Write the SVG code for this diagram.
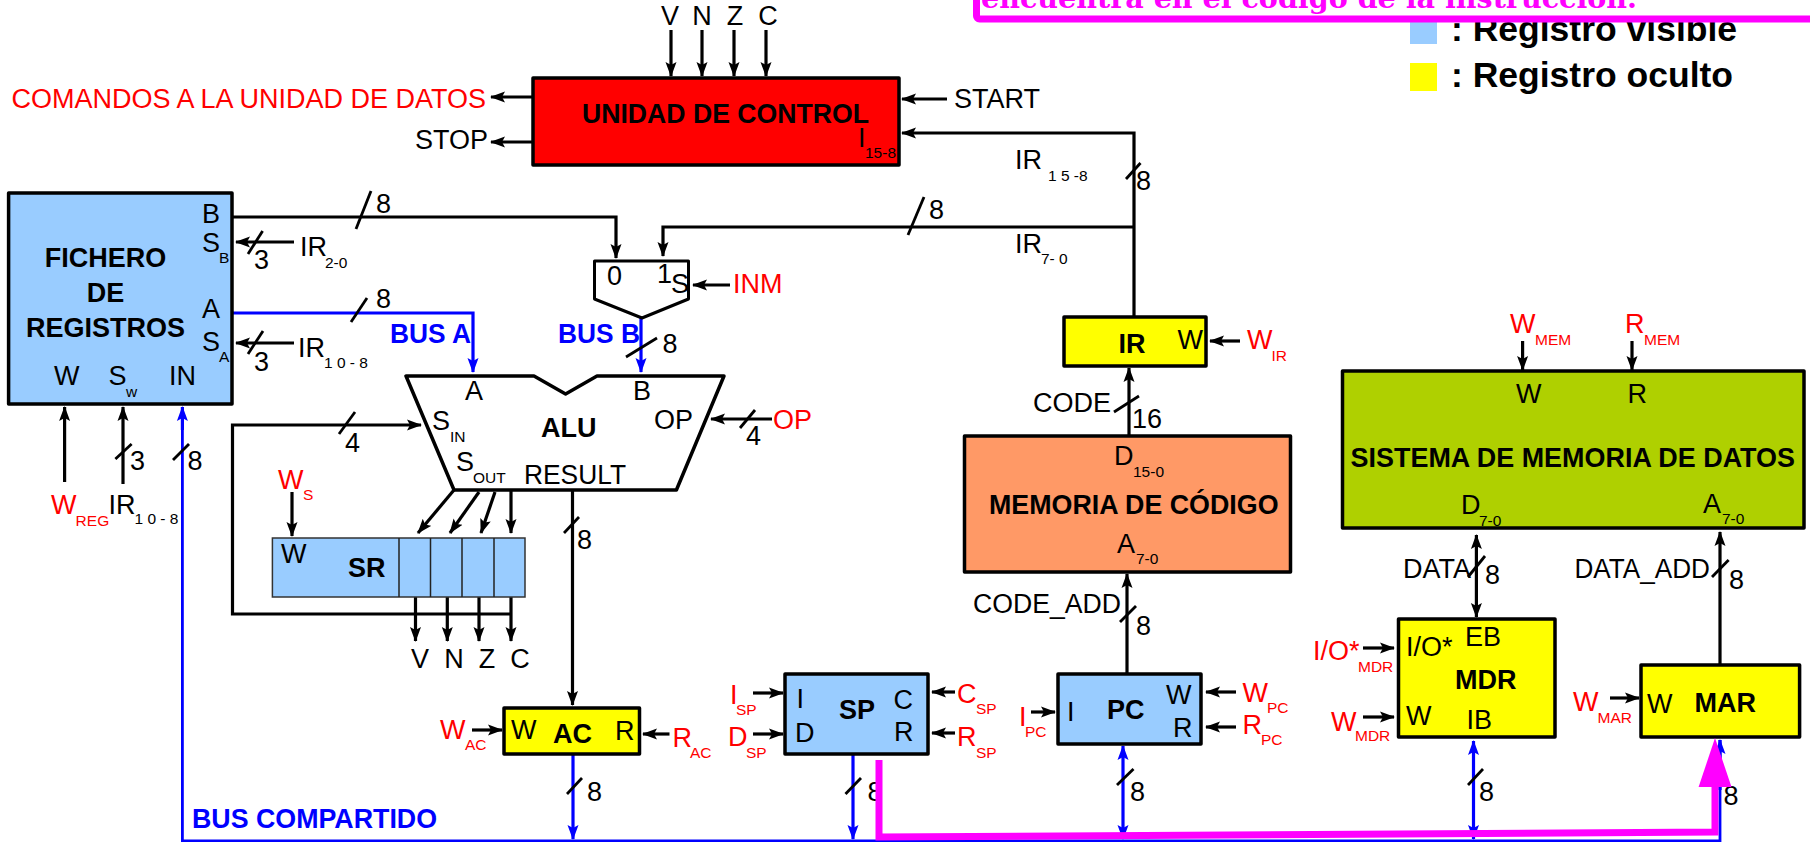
<svg xmlns="http://www.w3.org/2000/svg" width="1810" height="842" viewBox="0 0 1810 842">
<style>
text{font-family:"Liberation Sans",Arial,sans-serif;font-size:27px;fill:#000}
.b{font-weight:700}
.s{font-size:15.5px}
.r{fill:#f00}
.u{fill:#00f;font-weight:700}
.m{text-anchor:middle}
.box{stroke:#000;stroke-width:3.5;stroke-linejoin:round}
.blue{fill:#9cf}.yel{fill:#ff0}
#connectors line,#connectors polyline{fill:none;stroke:#000;stroke-width:3.2}
#connectors .a{marker-end:url(#ah)}
#connectors .bl{stroke:#00f;marker-end:url(#bh)}
#connectors .bb{stroke:#00f;marker-end:url(#bh);marker-start:url(#bh)}
#connectors .bn{stroke:#00f}
#connectors .d{marker-end:url(#ah);marker-start:url(#ah)}
#connectors .t{stroke-width:2.8}
</style>
<defs>
<marker id="ah" markerUnits="userSpaceOnUse" markerWidth="16" markerHeight="12" refX="14" refY="6" orient="auto-start-reverse"><path d="M0,.5L15,6L0,11.5L3,6z" fill="#000"/></marker>
<marker id="bh" markerUnits="userSpaceOnUse" markerWidth="16" markerHeight="12" refX="14" refY="6" orient="auto-start-reverse"><path d="M0,.5L15,6L0,11.5L3,6z" fill="#00f"/></marker>
</defs>

<g id="legend">
<rect x="1410" y="18" width="27" height="26" fill="#9cf"/>
<rect x="1410" y="63" width="27" height="28" fill="#ff0"/>
<text x="1451" y="41" class="b" style="font-size:35.5px">: Registro visible</text>
<text x="1451" y="87" class="b" style="font-size:35.5px">: Registro oculto</text>
</g>
<g id="note">
<rect x="976.5" y="-60" width="900" height="79" rx="3" fill="#fff" stroke="#f0f" stroke-width="7"/>
<text x="981" y="8" textLength="656" lengthAdjust="spacingAndGlyphs" style="font-family:'DejaVu Serif',serif;font-weight:700;font-size:27px;fill:#f0f">encuentra en el código de la instrucción.</text>
</g>

<g id="connectors">
<line class="a" x1="671" y1="30" x2="671" y2="76"/>
<line class="a" x1="702" y1="30" x2="702" y2="76"/>
<line class="a" x1="734" y1="30" x2="734" y2="76"/>
<line class="a" x1="766" y1="30" x2="766" y2="76"/>
<line class="a" x1="533" y1="97" x2="491" y2="97"/>
<line class="a" x1="533" y1="142" x2="491" y2="142"/>
<line class="a" x1="947" y1="99" x2="902" y2="99"/>
<polyline class="a" points="1134,317 1134,133 902,133"/>
<line class="t" x1="1126" y1="179" x2="1140.5" y2="163"/>
<polyline class="a" points="1134,227 663,227 663,256"/>
<line class="t" x1="908" y1="235" x2="924" y2="197"/>
<polyline class="a" points="232,217 616,217 616,258"/>
<line class="t" x1="356" y1="229" x2="371" y2="191"/>
<line class="a" x1="294" y1="242" x2="236" y2="242"/>
<line class="t" x1="248" y1="254" x2="262.6" y2="231"/>
<polyline class="bl" points="232,313 473,313 473,372"/>
<line class="t" x1="351" y1="322" x2="367" y2="298"/>
<line class="a" x1="294" y1="343" x2="236" y2="343"/>
<line class="t" x1="248" y1="354" x2="263" y2="331"/>
<line class="a" x1="730" y1="285" x2="693" y2="285"/>
<line class="bl" x1="641" y1="318" x2="641" y2="372"/>
<line class="t" x1="626" y1="357" x2="657" y2="338"/>
<line class="a" x1="772" y1="419" x2="711" y2="419"/>
<line class="t" x1="740" y1="428" x2="755" y2="410"/>
<polyline class="a" points="511,614 232.5,614 232.5,425 421,425"/>
<line class="t" x1="339" y1="434" x2="355" y2="412"/>
<line class="a" x1="454" y1="490" x2="418" y2="533"/>
<line class="a" x1="479" y1="492" x2="450" y2="533"/>
<line class="a" x1="495" y1="492" x2="481" y2="533"/>
<line class="a" x1="511" y1="490" x2="511" y2="533"/>
<line class="a" x1="572.5" y1="490" x2="572.5" y2="705"/>
<line class="t" x1="564" y1="533" x2="579" y2="517"/>
<line class="a" x1="292" y1="492" x2="292" y2="536"/>
<line class="a" x1="415.5" y1="597" x2="415.5" y2="641"/>
<line class="a" x1="447.3" y1="597" x2="447.3" y2="641"/>
<line class="a" x1="479" y1="597" x2="479" y2="641"/>
<line class="a" x1="511" y1="597" x2="511" y2="641"/>
<line class="a" x1="64.6" y1="482" x2="64.6" y2="407"/>
<line class="a" x1="123" y1="484" x2="123" y2="407"/>
<line class="t" x1="115.4" y1="459" x2="131.6" y2="444"/>
<polyline class="bn t" points="182.4,407 182.4,841 1720,841 1720,740"/>
<line class="bl" x1="182.4" y1="430" x2="182.4" y2="407"/>
<line class="t" x1="173" y1="460" x2="189" y2="444"/>
<line class="a" x1="472" y1="730" x2="502" y2="730"/>
<line class="a" x1="669.5" y1="734" x2="643" y2="734"/>
<line class="bl" x1="573" y1="754" x2="573" y2="839"/>
<line class="t" x1="567" y1="794" x2="582" y2="778"/>
<line class="a" x1="753" y1="693" x2="783" y2="693"/>
<line class="a" x1="753" y1="734" x2="783" y2="734"/>
<line class="a" x1="955" y1="692" x2="932" y2="692"/>
<line class="a" x1="955" y1="733" x2="932" y2="733"/>
<line class="bl" x1="853" y1="754" x2="853" y2="839"/>
<line class="t" x1="845.5" y1="794" x2="861" y2="778"/>
<line class="a" x1="1031" y1="712" x2="1055" y2="712"/>
<line class="a" x1="1236" y1="692" x2="1206" y2="692"/>
<line class="a" x1="1236" y1="727" x2="1206" y2="727"/>
<line class="a" x1="1127" y1="674" x2="1127" y2="574"/>
<line class="t" x1="1120" y1="622" x2="1136" y2="606"/>
<line class="bb" x1="1123" y1="839" x2="1123" y2="746"/>
<line class="t" x1="1117" y1="785" x2="1133.5" y2="769"/>
<line class="a" x1="1240" y1="341" x2="1210" y2="341"/>
<line class="a" x1="1129" y1="436" x2="1129" y2="368"/>
<line class="t" x1="1114" y1="412" x2="1139" y2="396"/>
<line class="a" x1="1522.6" y1="341" x2="1522.6" y2="370"/>
<line class="a" x1="1632" y1="341" x2="1632" y2="370"/>
<line class="d" x1="1476.4" y1="535" x2="1476.4" y2="617"/>
<line class="t" x1="1468" y1="577" x2="1485" y2="556"/>
<line class="a" x1="1720" y1="664" x2="1720" y2="532"/>
<line class="t" x1="1712" y1="577" x2="1728.6" y2="560"/>
<line class="a" x1="1363" y1="648" x2="1394" y2="648"/>
<line class="a" x1="1363" y1="717" x2="1394" y2="717"/>
<line class="bb" x1="1473.5" y1="839" x2="1473.5" y2="741"/>
<line class="t" x1="1468" y1="785" x2="1483" y2="769"/>
<line class="a" x1="1610" y1="698" x2="1639" y2="698"/>
<line class="bl" x1="1720" y1="790" x2="1720" y2="740"/>
</g>

<g id="ctrl">
<rect class="box" x="533" y="78" width="366" height="87" fill="#f00"/>
<text class="b" x="582" y="123" textLength="287" lengthAdjust="spacingAndGlyphs">UNIDAD DE CONTROL</text>
<text x="858" y="147">I</text><text class="s" x="865" y="158">15-8</text>
</g>
<g id="ctrl-signals">
<text class="m" x="670" y="25">V</text><text class="m" x="702" y="25">N</text><text class="m" x="735" y="25">Z</text><text class="m" x="768" y="25">C</text>
<text class="r" x="11.5" y="108">COMANDOS A LA UNIDAD DE DATOS</text>
<text x="415" y="149">STOP</text>
<text x="954" y="108">START</text>
<text x="1015" y="169">IR</text><text class="s" x="1048" y="181">1 5 -8</text>
<text x="1136" y="190">8</text>
<text x="929" y="219">8</text>
<text x="1015" y="253">IR</text><text class="s" x="1041" y="264">7- 0</text>
</g>

<g id="regfile">
<rect class="box blue" x="8.6" y="193" width="223.4" height="211"/>
<text class="b m" x="105.6" y="267">FICHERO</text>
<text class="b m" x="105.6" y="302">DE</text>
<text class="b m" x="105.6" y="337">REGISTROS</text>
<text x="202" y="223">B</text><text x="202" y="252">S</text><text class="s" x="219" y="263">B</text>
<text x="202" y="318">A</text><text x="202" y="351">S</text><text class="s" x="219" y="362">A</text>
<text x="54" y="385">W</text><text x="108.5" y="385">S</text><text class="s" x="126" y="397">w</text><text x="169" y="385">IN</text>
</g>
<g id="regfile-signals">
<text x="376" y="213">8</text>
<text x="254" y="269">3</text><text x="300" y="256">IR</text><text class="s" x="325" y="268">2-0</text>
<text x="376" y="308">8</text>
<text class="u" x="390" y="343" textLength="81" lengthAdjust="spacingAndGlyphs">BUS A</text>
<text class="u" x="558" y="343" textLength="82" lengthAdjust="spacingAndGlyphs">BUS B</text>
<text x="254" y="371">3</text><text x="298" y="357">IR</text><text class="s" x="324" y="368">1 0 - 8</text>
<text x="130" y="470">3</text><text x="187.6" y="470">8</text>
<text class="r" x="51" y="514">W</text><text class="r s" x="75.6" y="526">REG</text>
<text x="108.5" y="514">IR</text><text class="s" x="134.5" y="524">1 0 - 8</text>
</g>

<g id="mux">
<path class="box" d="M594.5,261H688.5V299L642,318L594.5,299z" fill="#fff" style="stroke-width:3"/>
<text x="607" y="285">0</text><text x="657" y="283">1</text><text x="671" y="293">S</text>
<text class="r" x="733" y="293">INM</text><text x="662.6" y="353">8</text>
</g>

<g id="alu">
<path d="M406,376H534L565.6,394L597,376H724L676.4,490H454z" fill="#fff" stroke="#000" stroke-width="3.5" stroke-linejoin="round"/>
<text x="465" y="400">A</text><text x="633" y="400">B</text><text x="654" y="429">OP</text>
<text class="b" x="541" y="437">ALU</text>
<text x="432" y="430">S</text><text class="s" x="450" y="442">IN</text>
<text x="456" y="471">S</text><text class="s" x="473" y="483">OUT</text>
<text x="524" y="484" textLength="102" lengthAdjust="spacingAndGlyphs">RESULT</text>
<text x="746" y="445">4</text><text class="r" x="773" y="429">OP</text>
<text x="345" y="452">4</text><text x="577" y="549">8</text>
</g>

<g id="sr">
<rect x="272.4" y="538" width="252.6" height="59" fill="#9cf" stroke="#333" stroke-width="1.5"/>
<path d="M399,538V597M430.5,538V597M462,538V597M494,538V597" stroke="#222" stroke-width="1.5" fill="none"/>
<text x="281" y="563">W</text><text class="b" x="348" y="577">SR</text>
<text class="r" x="278" y="489">W</text><text class="r s" x="303" y="500">S</text>
<text class="m" x="420" y="668">V</text><text class="m" x="454" y="668">N</text><text class="m" x="487" y="668">Z</text><text class="m" x="520" y="668">C</text>
</g>

<g id="ac">
<rect class="box yel" x="504" y="708" width="135.5" height="46"/>
<text x="511" y="739">W</text><text class="b" x="553" y="743">AC</text><text x="615" y="740">R</text>
<text class="r" x="440" y="739">W</text><text class="r s" x="465" y="750">AC</text>
<text class="r" x="672.4" y="747">R</text><text class="r s" x="690" y="758">AC</text>
<text x="587" y="801">8</text>
</g>
<g id="bus-label"><text class="u" x="192" y="828" textLength="245" lengthAdjust="spacingAndGlyphs">BUS COMPARTIDO</text></g>

<g id="sp">
<rect class="box blue" x="785" y="674" width="143" height="80"/>
<text x="796.5" y="708">I</text><text x="795" y="742">D</text><text class="b" x="839" y="719">SP</text>
<text x="893.5" y="709">C</text><text x="894" y="741">R</text>
<text class="r" x="730" y="704">I</text><text class="r s" x="736" y="715">SP</text>
<text class="r" x="728" y="746">D</text><text class="r s" x="746" y="758">SP</text>
<text class="r" x="957" y="703">C</text><text class="r s" x="976" y="714">SP</text>
<text class="r" x="957" y="746">R</text><text class="r s" x="976" y="758">SP</text>
<text x="867.5" y="801">8</text>
</g>

<g id="pc">
<rect class="box blue" x="1058" y="674" width="143" height="70"/>
<text x="1067" y="721">I</text><text class="b" x="1107" y="719">PC</text><text x="1166" y="704">W</text><text x="1173" y="737">R</text>
<text class="r" x="1019" y="726">I</text><text class="r s" x="1025" y="737">PC</text>
<text class="r" x="1242.6" y="702">W</text><text class="r s" x="1267" y="713">PC</text>
<text class="r" x="1242.6" y="734">R</text><text class="r s" x="1261" y="745">PC</text>
<text x="973" y="613" textLength="148" lengthAdjust="spacingAndGlyphs">CODE_ADD</text><text x="1136" y="635">8</text><text x="1130" y="801">8</text>
</g>

<g id="codemem">
<rect class="box" x="964.5" y="436" width="326" height="136" fill="#f96"/>
<text x="1114" y="465">D</text><text class="s" x="1133" y="477">15-0</text>
<text class="b" x="989" y="514" textLength="289.5" lengthAdjust="spacingAndGlyphs">MEMORIA DE CÓDIGO</text>
<text x="1117" y="553">A</text><text class="s" x="1136" y="564">7-0</text>
<text x="1033" y="412">CODE</text><text x="1132" y="428">16</text>
</g>

<g id="ir">
<rect class="box yel" x="1064" y="317" width="142" height="49"/>
<text class="b" x="1118.5" y="353">IR</text><text x="1177.5" y="349">W</text>
<text class="r" x="1247" y="349">W</text><text class="r s" x="1271.5" y="361">IR</text>
</g>

<g id="datamem">
<rect class="box" x="1342.5" y="371" width="461.5" height="157" fill="#afd000"/>
<text x="1516" y="403">W</text><text x="1627.6" y="403">R</text>
<text class="r" x="1510" y="333">W</text><text class="r s" x="1535" y="345">MEM</text>
<text class="r" x="1625" y="333">R</text><text class="r s" x="1644" y="345">MEM</text>
<text class="b" x="1350.6" y="467" textLength="444.4" lengthAdjust="spacingAndGlyphs">SISTEMA DE MEMORIA DE DATOS</text>
<text x="1461" y="514">D</text><text class="s" x="1479" y="526">7-0</text>
<text x="1703" y="513">A</text><text class="s" x="1722" y="524">7-0</text>
<text x="1403" y="578">DATA</text><text x="1485" y="584">8</text>
<text x="1574.5" y="578" textLength="135.5" lengthAdjust="spacingAndGlyphs">DATA_ADD</text><text x="1729" y="589">8</text>
</g>

<g id="mdr">
<rect class="box yel" x="1398.5" y="619" width="156.5" height="118"/>
<text x="1406" y="656">I/O*</text><text x="1465" y="646">EB</text>
<text class="b" x="1455" y="689">MDR</text>
<text x="1406" y="725">W</text><text x="1466.6" y="729">IB</text>
<text class="r" x="1313" y="660">I/O*</text><text class="r s" x="1358" y="672">MDR</text>
<text class="r" x="1331" y="731">W</text><text class="r s" x="1355" y="741">MDR</text>
<text x="1479" y="801">8</text>
</g>

<g id="mar">
<rect class="box yel" x="1641" y="665" width="158.6" height="72"/>
<text x="1647" y="713">W</text><text class="b" x="1694.6" y="712">MAR</text>
<text class="r" x="1573" y="711">W</text><text class="r s" x="1597.6" y="723">MAR</text>
<text x="1723.5" y="805">8</text>
</g>

<g id="highlight">
<polyline points="879,760 879,837 1715,832 1715,785" fill="none" stroke="#f0f" stroke-width="7"/>
<polygon points="1715,738 1731.5,787 1698.6,787" fill="#f0f"/>
</g>
</svg>
